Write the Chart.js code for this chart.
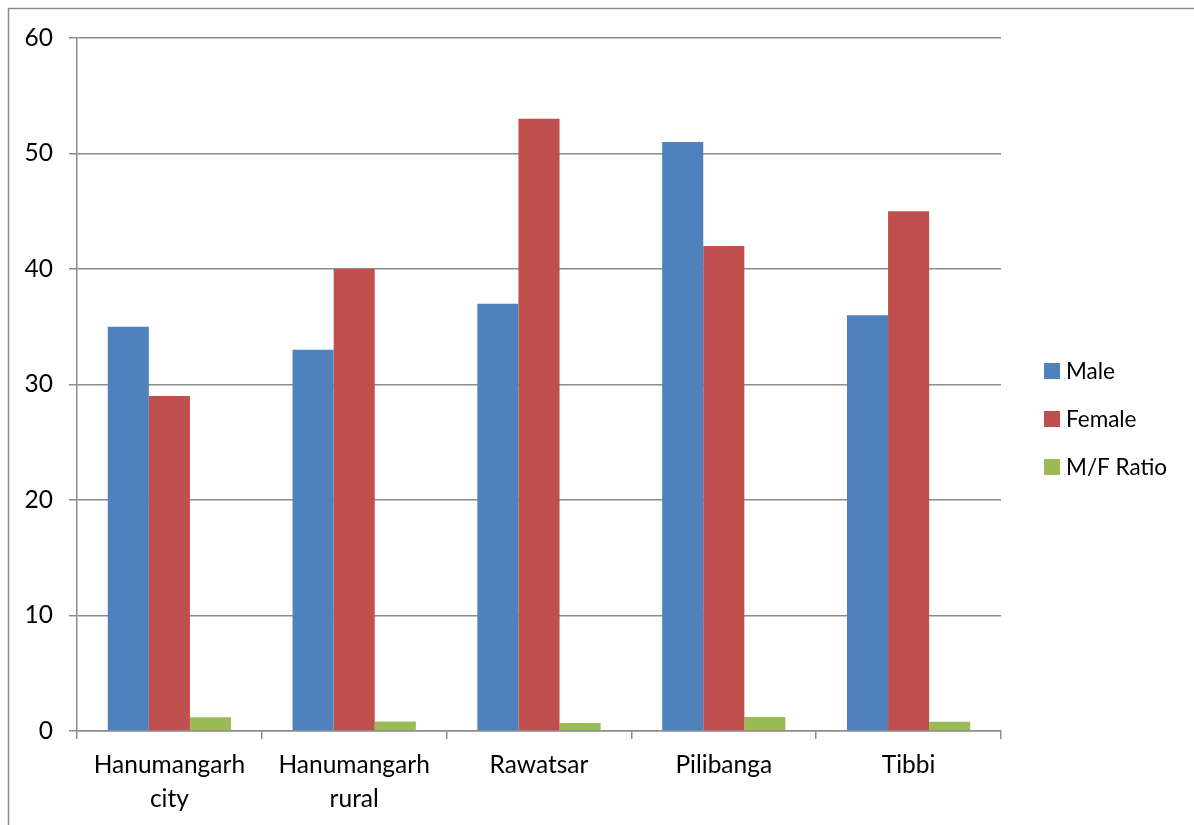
<!DOCTYPE html>
<html>
<head>
<meta charset="utf-8">
<script src="https://cdn.jsdelivr.net/npm/chart.js@4/dist/chart.umd.min.js"></script>
<style>
  html, body { margin: 0; padding: 0; background: #fff; }
  #wrap { width: 1194px; height: 825px; position: relative; }
</style>
</head>
<body>
<div id="wrap"><canvas id="c"></canvas></div>
<script>
// Survey counts by block
const categories = [["Hanumangarh", "city"], ["Hanumangarh", "rural"], "Rawatsar", "Pilibanga", "Tibbi"];
const maleValues = [35, 33, 37, 51, 36];
const femaleValues = [29, 40, 53, 42, 45];
const ratioValues = [1.2, 0.83, 0.7, 1.21, 0.8];
const seriesNames = ["Male", "Female", "M/F Ratio"];
const yTicks = [0, 10, 20, 30, 40, 50, 60];

const FONT = "Lato, 'Open Sans', sans-serif";
const GRID = "#8c8c8c";

// Outer frame around the whole chart
const framePlugin = {
  id: "frame",
  beforeDraw(chart) {
    const ctx = chart.ctx;
    ctx.save();
    ctx.strokeStyle = GRID;
    ctx.lineWidth = 1.5;
    ctx.strokeRect(8.5, 8.5, chart.width + 20, chart.height + 20);
    ctx.restore();
  }
};

// Legend on the right, stacked rows
const sideLegend = {
  id: "sideLegend",
  afterDraw(chart) {
    const ctx = chart.ctx;
    const x = 1044, box = 16;
    const rows = [371, 419, 467];
    ctx.save();
    ctx.font = "22.5px " + FONT;
    ctx.textBaseline = "middle";
    ctx.textAlign = "left";
    chart.data.datasets.forEach((ds, i) => {
      ctx.fillStyle = ds.backgroundColor;
      ctx.fillRect(x, rows[i] - box / 2, box, box);
      ctx.fillStyle = "#000";
      ctx.fillText(ds.label, x + 22, rows[i] + 1);
    });
    ctx.restore();
  }
};

new Chart(document.getElementById("c"), {
  type: "bar",
  data: {
    labels: categories,
    datasets: [
      { label: seriesNames[0], data: maleValues, backgroundColor: "#4F81BD" },
      { label: seriesNames[1], data: femaleValues, backgroundColor: "#C0504D" },
      { label: seriesNames[2], data: ratioValues, backgroundColor: "#9BBB59" }
    ]
  },
  options: {
    responsive: true,
    maintainAspectRatio: false,
    animation: false,
    devicePixelRatio: 1,
    layout: { padding: { left: 0, top: 38, right: 193, bottom: 0 } },
    datasets: { bar: { categoryPercentage: 0.667, barPercentage: 1.0 } },
    plugins: {
      legend: { display: false },
      tooltip: { enabled: false }
    },
    scales: {
      x: {
        offset: true,
        grid: { offset: true, drawOnChartArea: false, drawTicks: true, tickLength: 8, color: GRID, lineWidth: 1.5 },
        border: { color: GRID, width: 1.5 },
        ticks: { color: "#000", font: { family: FONT, size: 24.5, lineHeight: 1.4 }, padding: 9, maxRotation: 0, autoSkip: false },
        afterFit(scale) { scale.height = 94; }
      },
      y: {
        min: 0,
        max: 60,
        afterBuildTicks(scale) { scale.ticks = yTicks.map(v => ({ value: v })); },
        grid: { color: GRID, lineWidth: 1.5, tickLength: 8 },
        border: { color: GRID, width: 1.5 },
        ticks: { color: "#000", font: { family: FONT, size: 24.5 }, padding: 16 },
        afterFit(scale) { scale.width = 77; }
      }
    }
  },
  plugins: [framePlugin, sideLegend]
});
</script>
</body>
</html>
